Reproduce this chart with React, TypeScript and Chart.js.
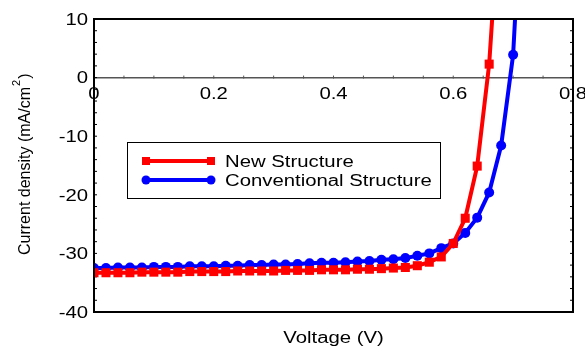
import React, { useEffect, useRef } from 'react';
import { Chart, registerables } from 'chart.js';
Chart.register(...registerables);

const voltage = [
  0, 0.02, 0.04, 0.06, 0.08, 0.1, 0.12, 0.14, 0.16, 0.18, 0.2, 0.22, 0.24, 0.26, 0.28, 0.3,
  0.32, 0.34, 0.36, 0.38, 0.4, 0.42, 0.44, 0.46, 0.48, 0.5, 0.52, 0.54, 0.56, 0.58, 0.6,
  0.62, 0.64, 0.66, 0.68, 0.7, 0.72,
];
const newStructure = [
  -33.3, -33.3, -33.3, -33.3, -33.2, -33.2, -33.2, -33.2, -33.1, -33.1, -33.1, -33.1, -33.0,
  -33.0, -33.0, -33.0, -32.9, -32.9, -32.9, -32.8, -32.8, -32.8, -32.7, -32.7, -32.6, -32.5,
  -32.4, -32.1, -31.5, -30.6, -28.3, -24.0, -15.1, 2.3, 33, null, null,
];
const conventional = [
  -32.5, -32.5, -32.4, -32.4, -32.4, -32.3, -32.3, -32.3, -32.2, -32.2, -32.2, -32.1, -32.1,
  -32.0, -32.0, -31.9, -31.9, -31.8, -31.7, -31.6, -31.6, -31.5, -31.4, -31.3, -31.1, -31.0,
  -30.8, -30.4, -30.0, -29.1, -28.3, -26.5, -23.9, -19.6, -11.6, 3.9, 42,
];
const seriesLabels = ['New Structure', 'Conventional Structure'];
const xTickLabels = [0, 0.2, 0.4, 0.6, 0.8];
const yTickLabels = [10, 0, -10, -20, -30, -40];
const xAxisTitle = 'Voltage (V)';
const yAxisTitleParts = ['Current density (mA/cm', '2', ')'];

const FONT = "'Liberation Sans', Arial, sans-serif";
const STRETCH = 1.27;

function wideText(ctx: any, text: string, x: number, y: number, align: string) {
  ctx.save();
  ctx.translate(x, y);
  ctx.scale(STRETCH, 1);
  ctx.font = `16px ${FONT}`;
  ctx.fillStyle = '#000';
  ctx.textAlign = align;
  ctx.textBaseline = 'alphabetic';
  ctx.fillText(text, 0, 0);
  ctx.restore();
}

const framePlugin = {
  id: 'frame',
  beforeDatasetsDraw(chart: any) {
    const { ctx, chartArea: a, scales } = chart;
    const x = scales.x;
    const y = scales.y;
    ctx.save();
    ctx.strokeStyle = '#000';
    ctx.lineWidth = 1;
    for (const t of y.ticks) {
      const py = y.getPixelForValue(t.value);
      ctx.beginPath();
      ctx.moveTo(a.left, py);
      ctx.lineTo(a.left + 3, py);
      ctx.moveTo(a.right, py);
      ctx.lineTo(a.right - 3, py);
      ctx.stroke();
    }
    const y0 = y.getPixelForValue(0);
    ctx.strokeStyle = '#555';
    for (const t of x.ticks) {
      const px = x.getPixelForValue(t.value);
      ctx.beginPath();
      ctx.moveTo(px, y0 - 2);
      ctx.lineTo(px, y0 + 1);
      ctx.stroke();
    }
    ctx.restore();
  },
  afterDraw(chart: any) {
    const { ctx, chartArea: a, scales } = chart;
    const x = scales.x;
    const y = scales.y;
    ctx.save();
    ctx.strokeStyle = '#000';
    ctx.lineWidth = 2;
    ctx.strokeRect(a.left, a.top, a.right - a.left, a.bottom - a.top);

    // tick labels
    const y0 = y.getPixelForValue(0);
    for (const v of xTickLabels) {
      wideText(ctx, v === 0 ? '0' : v.toFixed(1), x.getPixelForValue(v), y0 + 21, 'center');
    }
    for (const v of yTickLabels) {
      wideText(ctx, String(v), a.left - 6, y.getPixelForValue(v) + 5.8, 'right');
    }
    // x title
    wideText(ctx, xAxisTitle, (a.left + a.right) / 2, 343, 'center');

    // y title (rotated, with superscript)
    ctx.save();
    ctx.translate(30, 255);
    ctx.rotate(-Math.PI / 2);
    ctx.scale(1, 1.05);
    ctx.fillStyle = '#000';
    ctx.textAlign = 'left';
    ctx.textBaseline = 'alphabetic';
    ctx.font = `16px ${FONT}`;
    ctx.fillText(yAxisTitleParts[0], 0, 0);
    let w = ctx.measureText(yAxisTitleParts[0]).width;
    ctx.font = `11px ${FONT}`;
    ctx.fillText(yAxisTitleParts[1], w + 1, -10);
    w += ctx.measureText(yAxisTitleParts[1]).width + 2;
    ctx.font = `16px ${FONT}`;
    ctx.fillText(yAxisTitleParts[2], w, 0);
    ctx.restore();

    // legend
    ctx.lineWidth = 1;
    ctx.strokeStyle = '#000';
    ctx.strokeRect(127.5, 142.5, 313, 56);
    const rows = [161, 180];
    chart.data.datasets.forEach((ds: any, i: number) => {
      const yy = rows[i];
      ctx.strokeStyle = ds.borderColor;
      ctx.fillStyle = ds.borderColor;
      ctx.lineWidth = 4;
      ctx.beginPath();
      ctx.moveTo(146, yy);
      ctx.lineTo(211, yy);
      ctx.stroke();
      for (const mx of [146, 211]) {
        if (ds.pointStyle === 'rect') {
          ctx.fillRect(mx - 4, yy - 4, 8, 8);
        } else {
          ctx.beginPath();
          ctx.arc(mx, yy, 4.5, 0, Math.PI * 2);
          ctx.fill();
        }
      }
      wideText(ctx, ds.label, 225, yy + 5.5, 'left');
    });
    ctx.restore();
  },
};

export default function App() {
  const ref = useRef<HTMLCanvasElement>(null);
  useEffect(() => {
    const chart = new Chart(ref.current as HTMLCanvasElement, {
      type: 'line',
      data: {
        labels: voltage,
        datasets: [
          {
            label: seriesLabels[0],
            data: voltage.map((v, i) => ({ x: v, y: newStructure[i] })) as any,
            borderColor: '#ff0000',
            backgroundColor: '#ff0000',
            borderWidth: 4,
            pointStyle: 'rect',
            pointRadius: 6.4,
            pointBorderWidth: 0,
            tension: 0,
            spanGaps: false,
          },
          {
            label: seriesLabels[1],
            data: voltage.map((v, i) => ({ x: v, y: conventional[i] })) as any,
            borderColor: '#0000ff',
            backgroundColor: '#0000ff',
            borderWidth: 4,
            pointStyle: 'circle',
            pointRadius: 5,
            pointBorderWidth: 0,
            tension: 0,
          },
        ],
      },
      options: {
        animation: false,
        responsive: false,
        layout: { padding: { top: 19, right: 12, bottom: 34, left: 0 } },
        plugins: { legend: { display: false }, tooltip: { enabled: false } },
        scales: {
          x: {
            type: 'linear',
            min: 0,
            max: 0.8,
            position: { y: 0 } as any,
            grid: { display: false },
            border: { display: true, color: '#555', width: 1.5 },
            ticks: { stepSize: 0.05, autoSkip: false, display: false },
          },
          y: {
            type: 'linear',
            min: -40,
            max: 10,
            grid: { display: false },
            border: { display: false },
            ticks: { stepSize: 2, autoSkip: false, display: false },
            afterFit: (s: any) => {
              s.width = 94;
            },
          },
        },
      },
      plugins: [framePlugin],
    });
    return () => chart.destroy();
  }, []);
  return (
    <div style={{ position: 'fixed', left: 0, top: 0, width: 585, height: 346, background: '#fff' }}>
      <canvas ref={ref} width={585} height={346} />
    </div>
  );
}
